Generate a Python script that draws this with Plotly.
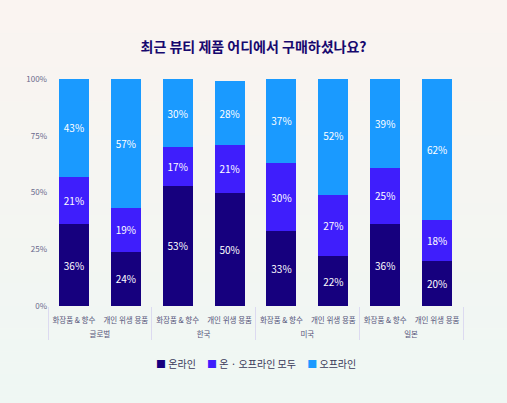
import plotly.graph_objects as go

regions = ["글로벌", "글로벌", "한국", "한국", "미국", "미국", "일본", "일본"]
products = ["화장품 & 향수", "개인 위생 용품"] * 4
online = [36, 24, 53, 50, 33, 22, 36, 20]
both = [21, 19, 17, 21, 30, 27, 25, 18]
offline = [43, 57, 30, 28, 37, 52, 39, 62]
series_names = ["온라인", "온 · 오프라인 모두", "오프라인"]
colors = ["#16007e", "#3f1efc", "#1a9aff"]
y_ticks = [0, 25, 50, 75, 100]

FONT = "Noto Sans CJK KR"
fig = go.Figure()
pad = "<span style='color:rgba(0,0,0,0)'>.</span><br>"
region_labels = [pad + r for r in regions]
for name, vals, col in zip(series_names, [online, both, offline], colors):
    fig.add_trace(go.Bar(
        x=[region_labels, products], y=vals, name=name, marker_color=col,
        marker_line_width=0, showlegend=False,
        text=[f"{v}%" for v in vals], textposition="inside",
        insidetextanchor="middle",
        textfont=dict(color="white", size=10, family=FONT),
    ))

legend_text = "     ".join(
    f"<span style='color:{c}'>■</span> {n}" for n, c in zip(series_names, colors))

# soft gradient background
shapes = []
n = 40
top = (251, 244, 241)
bot = (238, 248, 244)
for i in range(n):
    t = i / (n - 1)
    c = tuple(int(top[k] + (bot[k] - top[k]) * t) for k in range(3))
    shapes.append(dict(type="rect", xref="paper", yref="paper",
                       x0=-0.2, x1=1.2, y0=1.4 - (i + 1) * 2.0 / n, y1=1.4 - i * 2.0 / n + 0.001,
                       fillcolor=f"rgb{c}", line_width=0, layer="below"))

fig.update_layout(
    width=507, height=403,
    barmode="stack", bargap=0.42,
    paper_bgcolor="rgb(245,245,244)", plot_bgcolor="rgba(0,0,0,0)",
    margin=dict(l=48, r=44, t=79, b=97),
    shapes=shapes,
    title=dict(text="<b>최근 뷰티 제품 어디에서 구매하셨나요?</b>", x=0.5, xanchor="center",
               y=1 - 47 / 403, yanchor="middle",
               font=dict(family=FONT, size=14, color="#17086e")),
    font=dict(family=FONT, size=8, color="#55557a"),
    uniformtext=dict(minsize=9, mode="show"),
    showlegend=False,
    annotations=[dict(text=legend_text, xref="paper", yref="paper", x=0.5, y=-0.255,
                      xanchor="center", yanchor="middle", showarrow=False,
                      font=dict(size=10, color="#3a3a5a", family=FONT))],
)
fig.update_yaxes(range=[0, 100], tickvals=y_ticks, ticktext=[f"{v}%" for v in y_ticks],
                 showgrid=False, zeroline=False, showline=False,
                 tickfont=dict(size=8, color="#6a6a8c"), ticklen=0, ticks="")
fig.update_xaxes(type="multicategory", showgrid=False, showline=False, tickangle=0,
                 showdividers=True, dividercolor="#dcdaf0", dividerwidth=1,
                 ticklabelstandoff=8,
                 tickfont=dict(size=7.5, color="#55557a"))

fig.write_html("out.html")
